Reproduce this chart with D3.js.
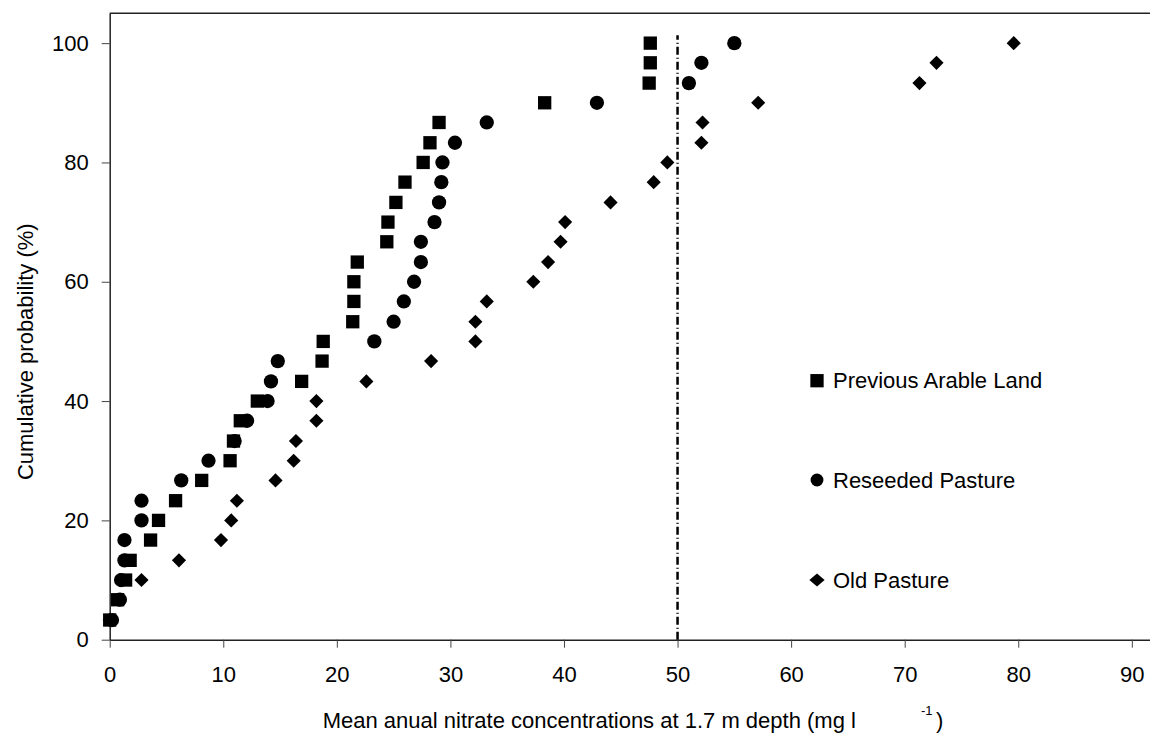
<!DOCTYPE html>
<html>
<head>
<meta charset="utf-8">
<script src="https://cdn.jsdelivr.net/npm/d3@7"></script>
<style>
  body { margin: 0; background: #fff; }
  svg { display: block; font-family: "Liberation Sans", Arial, sans-serif; }
</style>
</head>
<body>
<svg id="chart" width="1150" height="736"></svg>
<script>
// cumulative probability (%) for each ranked site
const probability = [3.3, 6.7, 10, 13.3, 16.7, 20, 23.3, 26.7, 30, 33.3,
  36.7, 40, 43.3, 46.7, 50, 53.3, 56.7, 60, 63.3, 66.7,
  70, 73.3, 76.7, 80, 83.3, 86.7, 90, 93.3, 96.7, 100];

// mean annual nitrate (mg/l) at 1.7 m
const arable = [0.0, 0.7, 1.4, 1.8, 3.6, 4.3, 5.8, 8.1, 10.6, 10.9,
  11.5, 13.0, 16.9, 18.7, 18.8, 21.4, 21.5, 21.5, 21.8, 24.4,
  24.5, 25.2, 26.0, 27.6, 28.2, 29.0, 38.3, 47.5, 47.6, 47.6];
const reseeded = [0.2, 0.9, 1.0, 1.3, 1.3, 2.8, 2.8, 6.3, 8.7, 11.0,
  12.1, 13.9, 14.2, 14.8, 23.3, 25.0, 25.9, 26.8, 27.4, 27.4,
  28.6, 29.0, 29.2, 29.3, 30.4, 33.2, 42.9, 51.0, 52.1, 55.0];
const oldPasture = [0.0, 0.8, 2.8, 6.1, 9.8, 10.7, 11.2, 14.6, 16.2, 16.4,
  18.2, 18.2, 22.6, 28.3, 32.2, 32.2, 33.2, 37.3, 38.6, 39.7,
  40.1, 44.1, 47.9, 49.1, 52.1, 52.2, 57.1, 71.3, 72.8, 79.6];

const xTicks = [0, 10, 20, 30, 40, 50, 60, 70, 80, 90];
const yTicks = [0, 20, 40, 60, 80, 100];
const limitValue = 50;

const seriesNames = ["Previous Arable Land", "Reseeded Pasture", "Old Pasture"];

const svg = d3.select("#chart");

let x = d3.scaleLinear().domain([0, 91.6]).range([109.7, 1150]);
let y = d3.scaleLinear().domain([0, 105]).range([639.7, 13.3]);

const font = "22px";

// axes
let xAxis = svg.append("g")
  .attr("transform", "translate(0," + y(0) + ")")
  .call(d3.axisBottom(x).tickValues(xTicks).tickSize(8).tickPadding(19).tickSizeOuter(0));
let yAxis = svg.append("g")
  .attr("transform", "translate(" + x(0) + ",0)")
  .call(d3.axisLeft(y).tickValues(yTicks).tickSize(8).tickPadding(13).tickSizeOuter(0));

[xAxis, yAxis].forEach(a => {
  a.attr("font-family", null).attr("font-size", null);
  a.select(".domain").attr("stroke", "#222").attr("stroke-width", 1.5);
  a.selectAll(".tick line").attr("stroke", "#444").attr("stroke-width", 1);
  a.selectAll(".tick text").attr("fill", "#000").style("font-size", font);
});

// top frame line
svg.append("line")
  .attr("x1", x(0)).attr("x2", x.range()[1])
  .attr("y1", y(105)).attr("y2", y(105))
  .attr("stroke", "#222").attr("stroke-width", 1.5);

// 50 mg/l limit
svg.append("line")
  .attr("x1", x(limitValue)).attr("x2", x(limitValue))
  .attr("y1", y(0)).attr("y2", y(101.3))
  .attr("stroke", "#000").attr("stroke-width", 2.5)
  .attr("stroke-dasharray", "8,3,1,3");

// marker shapes
const square = d3.symbol(d3.symbolSquare, 177)();
const circle = d3.symbol(d3.symbolCircle, 160)();
const diamond = d3.symbol(d3.symbolSquare, 100)();

function drawSeries(vals, path, tf) {
  svg.append("g").selectAll("path")
    .data(vals)
    .join("path")
    .attr("d", path)
    .attr("fill", "#000")
    .attr("transform", (d, i) => "translate(" + x(d) + "," + y(probability[i]) + ")" + tf);
}
drawSeries(oldPasture, diamond, " rotate(45)");
drawSeries(reseeded, circle, "");
drawSeries(arable, square, "");

// legend
const legendMarks = [[square, ""], [circle, ""], [diamond, " scale(1.08,0.92) rotate(45)"]];
const legendY = [380.7, 480, 580];
seriesNames.forEach((name, i) => {
  const g = svg.append("g").attr("transform", "translate(817," + legendY[i] + ")");
  g.append("path").attr("d", legendMarks[i][0]).attr("fill", "#000")
    .attr("transform", i === 1 ? "scale(0.9)" : (i === 0 ? "" : legendMarks[i][1]));
  g.append("text").attr("x", 16).attr("y", 7.6)
    .style("font-size", font).attr("fill", "#000").text(name);
});

// axis titles
let xt = svg.append("text").attr("x", 322.7).attr("y", 728)
  .style("font-size", font).attr("fill", "#000");
xt.append("tspan").text("Mean anual nitrate concentrations at 1.7 m depth (mg l");
xt.append("tspan").attr("x", 921).attr("y", 715).style("font-size", "13px").text("-1");
xt.append("tspan").attr("x", 936).attr("y", 728).text(")");

svg.append("text")
  .attr("transform", "translate(33.3,351.7) rotate(-90)")
  .attr("text-anchor", "middle")
  .style("font-size", font).attr("fill", "#000")
  .text("Cumulative probability (%)");
</script>
</body>
</html>
